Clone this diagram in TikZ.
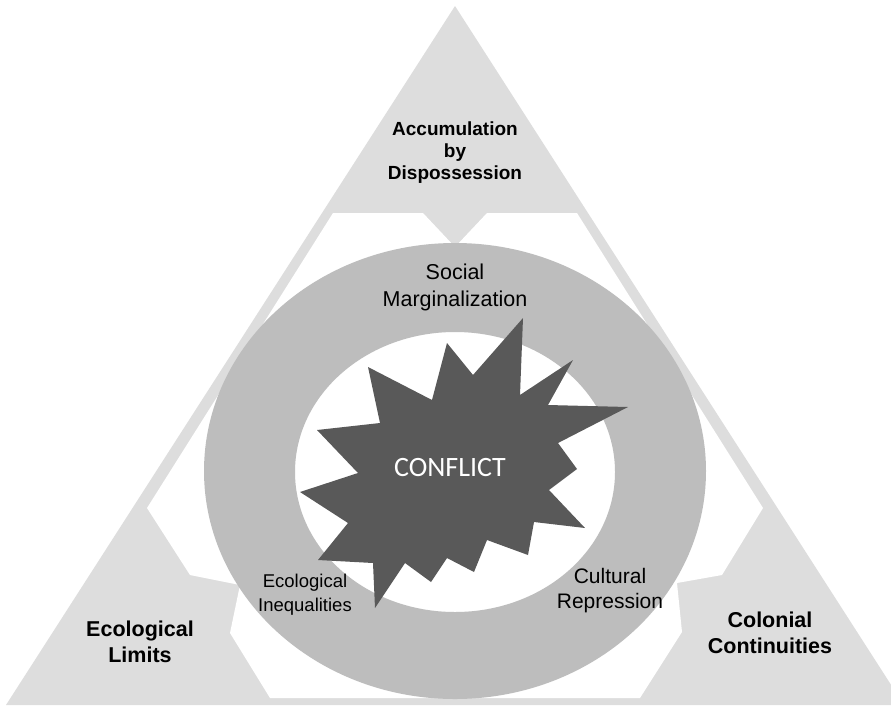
\documentclass[tikz,border=0pt]{standalone}
\usepackage{fontspec}
\setmainfont{Liberation Sans}
\newfontfamily\burstfont{Carlito}
\definecolor{cornergray}{gray}{0.865}
\definecolor{ringgray}{gray}{0.74}
\definecolor{burstgray}{gray}{0.35}
\tikzset{
  cornerlabel/.style={align=center, font=\bfseries\fontsize{21.5}{26}\selectfont},
  ringlabel/.style={align=center, font=\fontsize{21.5}{27}\selectfont},
}
\begin{document}
\begin{tikzpicture}[x=1pt, y=-1pt]
\useasboundingbox (0,0) rectangle (891,705);
\clip (0,0) rectangle (891,705);
\fill[white] (0,0) rectangle (891,705);

% outer triangle and the three corner pieces
\fill[cornergray] (455,6) -- (6,705) -- (904,705) -- cycle;
\fill[white] (333,213) -- (423,213) -- (455,247) -- (487,213) -- (577,213)
  -- (763,508) -- (722,575) -- (677,583) -- (682,632) -- (640,698)
  -- (270,698) -- (230,633) -- (240,585) -- (190,575) -- (147,508) -- cycle;

% ring
\fill[ringgray, even odd rule] (455,471) ellipse [x radius=251, y radius=228]
  (455,472) ellipse [x radius=160, y radius=140];

% burst
\fill[burstgray] (523,318) -- (520,395) -- (573,360) -- (548,405) -- (628,407)
  -- (558,443) -- (577,469) -- (549,490) -- (585,528) -- (534,522) -- (528,555)
  -- (487,540) -- (474,572) -- (447,558) -- (431,582) -- (405,563) -- (375,608)
  -- (373,563) -- (318,560) -- (348,523) -- (300,492) -- (358,473) -- (317,430)
  -- (380,423) -- (368,367) -- (432,400) -- (447,343) -- (473,375) -- cycle;

\node[cornerlabel, font=\bfseries\fontsize{19}{22}\selectfont] (accum) at (455,153) {Accumulation\\by\\Dispossession};
\node[cornerlabel] (ecolimits) at (140,642) {Ecological\\Limits};
\node[cornerlabel] (colonial) at (770,633) {Colonial\\Continuities};

\node[ringlabel] (social) at (455,287) {Social\\Marginalization};
\node[ringlabel, font=\fontsize{18.5}{24}\selectfont] (ecoineq) at (305,595) {Ecological\\Inequalities};
\node[ringlabel, font=\fontsize{21}{25}\selectfont] (cultural) at (610,591) {Cultural\\Repression};

\node[text=white, font=\burstfont\fontsize{28}{30}\selectfont] (conflict) at (450,468) {CONFLICT};
\end{tikzpicture}
\end{document}
